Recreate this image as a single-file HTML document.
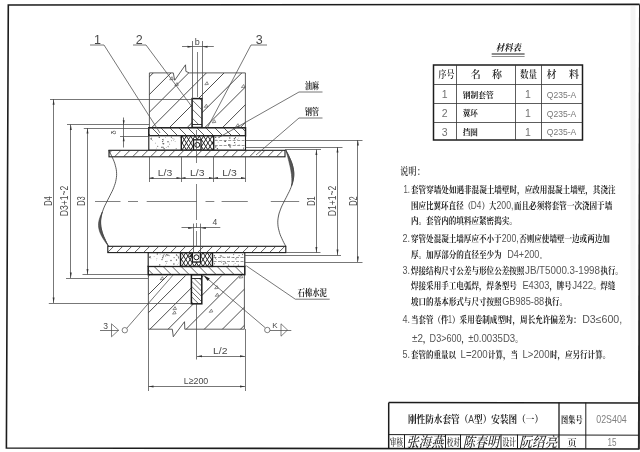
<!DOCTYPE html>
<html lang="zh"><head><meta charset="utf-8"><title>02S404</title>
<style>html,body{margin:0;padding:0;background:#fff;overflow:hidden}svg{display:block;will-change:transform;-webkit-font-smoothing:antialiased;filter:blur(0.4px)}</style>
</head><body>
<svg width="640" height="452" viewBox="0 0 640 452">
<defs>
<linearGradient id="band" x1="0" y1="0" x2="0" y2="1"><stop offset="0" stop-color="#f4f4f4"/><stop offset="0.6" stop-color="#f5f5f5"/><stop offset="1" stop-color="#ffffff"/></linearGradient>
</defs>
<rect x="0" y="0" width="640" height="452" fill="#ffffff"/>
<rect x="630.5" y="6" width="5" height="394" fill="url(#band)"/>
<polyline points="639.6,4.4 8.3,5 6.4,448 638.8,449" fill="none" stroke="#1c1c1c" stroke-width="1.6"/>
<line x1="640" y1="4.4" x2="638.9" y2="449.5" stroke="#2a2a2a" stroke-width="2"/>
<line x1="388.70" y1="402.60" x2="639.00" y2="403.00" stroke="#1c1c1c" stroke-width="1.5" />
<line x1="388.70" y1="402.60" x2="388.70" y2="448.60" stroke="#1c1c1c" stroke-width="1.5" />
<line x1="388.70" y1="434.60" x2="639.00" y2="435.20" stroke="#1c1c1c" stroke-width="1.0" />
<line x1="559.00" y1="402.60" x2="559.00" y2="448.60" stroke="#1c1c1c" stroke-width="1.3" />
<line x1="585.80" y1="402.60" x2="585.80" y2="448.60" stroke="#1c1c1c" stroke-width="1.0" />
<line x1="404.50" y1="434.60" x2="404.50" y2="448.60" stroke="#1c1c1c" stroke-width="1.0" />
<line x1="445.50" y1="434.60" x2="445.50" y2="448.60" stroke="#1c1c1c" stroke-width="1.0" />
<line x1="460.50" y1="434.60" x2="460.50" y2="448.60" stroke="#1c1c1c" stroke-width="1.0" />
<line x1="501.00" y1="434.60" x2="501.00" y2="448.60" stroke="#1c1c1c" stroke-width="1.0" />
<line x1="517.50" y1="434.60" x2="517.50" y2="448.60" stroke="#1c1c1c" stroke-width="1.0" />
<rect x="433.50" y="65.00" width="149.00" height="75.00" stroke="#1c1c1c" stroke-width="1.5" fill="none" />
<line x1="433.50" y1="84.50" x2="582.50" y2="84.50" stroke="#333" stroke-width="0.8" />
<line x1="433.50" y1="103.50" x2="582.50" y2="103.50" stroke="#333" stroke-width="0.8" />
<line x1="433.50" y1="122.50" x2="582.50" y2="122.50" stroke="#333" stroke-width="0.8" />
<line x1="456.50" y1="65.00" x2="456.50" y2="140.00" stroke="#333" stroke-width="0.8" />
<line x1="515.50" y1="65.00" x2="515.50" y2="140.00" stroke="#333" stroke-width="0.8" />
<line x1="541.50" y1="65.00" x2="541.50" y2="140.00" stroke="#333" stroke-width="0.8" />
<clipPath id="c1"><path d="M149.4 127.5V72.9H173.3L174.7 80.3L185.5 64.8L185.9 71.4L189.2 72.9H245.4V127.5Z"/></clipPath>
<g clip-path="url(#c1)" stroke="#3a3a3a" stroke-width="0.9" fill="none">
<path d="M81.00 127.50L144.50 64.00M98.70 127.50L162.20 64.00M116.40 127.50L179.90 64.00M134.10 127.50L197.60 64.00M151.80 127.50L215.30 64.00M169.50 127.50L233.00 64.00M187.20 127.50L250.70 64.00M204.90 127.50L268.40 64.00M222.60 127.50L286.10 64.00M240.30 127.50L303.80 64.00M258.00 127.50L321.50 64.00"/>
</g>
<path d="M149.4 127.5V72.9H173.3L174.7 80.3L185.5 64.8L185.9 71.4L189.2 72.9H245.4V127.5" stroke="#333" stroke-width="0.8" fill="none" />
<path d="M204.8 84.8L207.0 81.7L208.4 84.4Z" fill="none" stroke="#444" stroke-width="0.6"/>
<path d="M241.4 87.6L243.6 84.5L245.0 87.2Z" fill="none" stroke="#444" stroke-width="0.6"/>
<path d="M204.2 107.3L206.4 104.2L207.8 106.9Z" fill="none" stroke="#444" stroke-width="0.6"/>
<path d="M212.2 122.8L214.4 119.7L215.8 122.4Z" fill="none" stroke="#444" stroke-width="0.6"/>
<path d="M235.7 126.8L237.9 123.7L239.3 126.4Z" fill="none" stroke="#444" stroke-width="0.6"/>
<path d="M169.7 79.8L171.9 76.7L173.3 79.4Z" fill="none" stroke="#444" stroke-width="0.6"/>
<path d="M174.8 85.7L177.0 82.6L178.4 85.3Z" fill="none" stroke="#444" stroke-width="0.6"/>
<clipPath id="c2"><path d="M148.4 274.6V329.2H172.3L173.3 336.7L184.5 321.7L184.8 329.2H244.4V274.6Z"/></clipPath>
<g clip-path="url(#c2)" stroke="#3a3a3a" stroke-width="0.9" fill="none">
<path d="M69.80 337.00L131.30 275.50M87.90 337.00L149.40 275.50M106.00 337.00L167.50 275.50M124.10 337.00L185.60 275.50M142.20 337.00L203.70 275.50M160.30 337.00L221.80 275.50M178.40 337.00L239.90 275.50M196.50 337.00L258.00 275.50M214.60 337.00L276.10 275.50M232.70 337.00L294.20 275.50M250.80 337.00L312.30 275.50"/>
</g>
<path d="M148.4 274.6V329.2H172.3L173.3 336.7L184.5 321.7L184.8 329.2H244.4V274.6" stroke="#333" stroke-width="0.8" fill="none" />
<path d="M160.2 279.8L162.4 276.7L163.8 279.4Z" fill="none" stroke="#444" stroke-width="0.6"/>
<path d="M172.9 309.8L175.1 306.7L176.5 309.4Z" fill="none" stroke="#444" stroke-width="0.6"/>
<path d="M172.5 314.1L174.7 311.0L176.1 313.7Z" fill="none" stroke="#444" stroke-width="0.6"/>
<path d="M209.2 312.3L211.4 309.2L212.8 311.9Z" fill="none" stroke="#444" stroke-width="0.6"/>
<path d="M214.7 288.8L216.9 285.7L218.3 288.4Z" fill="none" stroke="#444" stroke-width="0.6"/>
<path d="M215.2 296.3L217.4 293.2L218.8 295.9Z" fill="none" stroke="#444" stroke-width="0.6"/>
<path d="M239.2 278.1L241.4 275.0L242.8 277.7Z" fill="none" stroke="#444" stroke-width="0.6"/>
<rect x="192.10" y="98.60" width="9.90" height="28.90" stroke="#1c1c1c" stroke-width="1.5" fill="#fff" />
<clipPath id="c3"><path d="M192.10 98.60H202.00V124.00H192.10Z"/></clipPath>
<g clip-path="url(#c3)" stroke="#333" stroke-width="0.7" fill="none">
<path d="M163.70 98.60L189.10 124.00M172.70 98.60L198.10 124.00M181.70 98.60L207.10 124.00M190.70 98.60L216.10 124.00M199.70 98.60L225.10 124.00M208.70 98.60L234.10 124.00"/>
</g>
<line x1="192.10" y1="124.50" x2="202.00" y2="124.50" stroke="#1c1c1c" stroke-width="0.9" />
<rect x="191.40" y="274.60" width="10.40" height="29.20" stroke="#1c1c1c" stroke-width="1.5" fill="#fff" />
<clipPath id="c4"><path d="M191.40 278.00H201.80V303.80H191.40Z"/></clipPath>
<g clip-path="url(#c4)" stroke="#333" stroke-width="0.7" fill="none">
<path d="M162.40 278.00L188.20 303.80M167.60 278.00L193.40 303.80M172.80 278.00L198.60 303.80M178.00 278.00L203.80 303.80M183.20 278.00L209.00 303.80M188.40 278.00L214.20 303.80M193.60 278.00L219.40 303.80M198.80 278.00L224.60 303.80M204.00 278.00L229.80 303.80"/>
</g>
<line x1="191.40" y1="278.50" x2="201.80" y2="278.50" stroke="#1c1c1c" stroke-width="0.9" />
<rect x="148.80" y="127.80" width="96.70" height="8.00" stroke="#1c1c1c" stroke-width="1.5" fill="#fff" />
<clipPath id="c5"><path d="M148.80 127.80H245.50V135.80H148.80Z"/></clipPath>
<g clip-path="url(#c5)" stroke="#333" stroke-width="0.8" fill="none">
<path d="M133.80 127.80L141.80 135.80M142.80 127.80L150.80 135.80M151.80 127.80L159.80 135.80M160.80 127.80L168.80 135.80M169.80 127.80L177.80 135.80M178.80 127.80L186.80 135.80M187.80 127.80L195.80 135.80M196.80 127.80L204.80 135.80M205.80 127.80L213.80 135.80M214.80 127.80L222.80 135.80M223.80 127.80L231.80 135.80M232.80 127.80L240.80 135.80M241.80 127.80L249.80 135.80M250.80 127.80L258.80 135.80"/>
</g>
<rect x="148.20" y="266.40" width="96.60" height="8.20" stroke="#1c1c1c" stroke-width="1.5" fill="#fff" />
<clipPath id="c6"><path d="M148.20 266.40H244.80V274.60H148.20Z"/></clipPath>
<g clip-path="url(#c6)" stroke="#333" stroke-width="0.8" fill="none">
<path d="M136.00 266.40L144.20 274.60M145.00 266.40L153.20 274.60M154.00 266.40L162.20 274.60M163.00 266.40L171.20 274.60M172.00 266.40L180.20 274.60M181.00 266.40L189.20 274.60M190.00 266.40L198.20 274.60M199.00 266.40L207.20 274.60M208.00 266.40L216.20 274.60M217.00 266.40L225.20 274.60M226.00 266.40L234.20 274.60M235.00 266.40L243.20 274.60M244.00 266.40L252.20 274.60M253.00 266.40L261.20 274.60"/>
</g>
<rect x="148.80" y="135.80" width="96.70" height="14.40" stroke="#1c1c1c" stroke-width="1.1" fill="#fff" />
<g fill="#555"><circle cx="163.6" cy="143.7" r="0.7"/><circle cx="163.6" cy="147.3" r="0.45"/><circle cx="155.4" cy="143.1" r="0.45"/><circle cx="152.7" cy="140.6" r="0.35"/><circle cx="166.2" cy="147.7" r="0.35"/><circle cx="168.0" cy="141.8" r="0.7"/><circle cx="169.7" cy="144.4" r="0.45"/><circle cx="168.8" cy="147.0" r="0.35"/><circle cx="151.6" cy="139.3" r="0.45"/><circle cx="168.1" cy="146.3" r="0.55"/><circle cx="163.2" cy="147.1" r="0.45"/><circle cx="169.3" cy="143.0" r="0.35"/><circle cx="163.7" cy="140.3" r="0.35"/><circle cx="171.4" cy="140.8" r="0.45"/><circle cx="165.4" cy="137.4" r="0.35"/><circle cx="162.0" cy="147.2" r="0.7"/><circle cx="151.8" cy="137.2" r="0.35"/><circle cx="156.3" cy="148.1" r="0.35"/><circle cx="164.1" cy="148.8" r="0.7"/><circle cx="162.6" cy="143.8" r="0.45"/><circle cx="173.5" cy="140.2" r="0.35"/><circle cx="159.3" cy="137.2" r="0.7"/><circle cx="172.9" cy="138.4" r="0.45"/><circle cx="171.4" cy="137.1" r="0.7"/><circle cx="174.1" cy="139.1" r="0.45"/><circle cx="163.4" cy="139.3" r="0.45"/><circle cx="162.6" cy="141.6" r="0.7"/><circle cx="162.6" cy="139.6" r="0.55"/><circle cx="176.2" cy="148.7" r="0.55"/><circle cx="180.2" cy="137.2" r="0.45"/><circle cx="161.8" cy="147.3" r="0.35"/><circle cx="151.1" cy="138.8" r="0.7"/><circle cx="157.7" cy="146.3" r="0.55"/><circle cx="175.1" cy="141.6" r="0.35"/></g>
<g fill="#555"><circle cx="228.8" cy="144.9" r="0.55"/><circle cx="218.9" cy="137.1" r="0.55"/><circle cx="229.1" cy="144.7" r="0.7"/><circle cx="235.3" cy="144.2" r="0.35"/><circle cx="234.4" cy="138.7" r="0.7"/><circle cx="225.7" cy="141.1" r="0.45"/><circle cx="216.5" cy="146.8" r="0.35"/><circle cx="230.0" cy="146.8" r="0.7"/><circle cx="238.5" cy="138.0" r="0.35"/><circle cx="239.1" cy="144.9" r="0.45"/><circle cx="217.4" cy="148.8" r="0.7"/><circle cx="218.1" cy="142.1" r="0.45"/><circle cx="230.8" cy="147.6" r="0.45"/><circle cx="243.8" cy="147.6" r="0.45"/><circle cx="229.8" cy="138.0" r="0.7"/><circle cx="234.6" cy="142.6" r="0.7"/><circle cx="230.8" cy="144.7" r="0.35"/><circle cx="243.5" cy="148.7" r="0.55"/><circle cx="225.3" cy="141.4" r="0.7"/><circle cx="234.8" cy="138.4" r="0.45"/><circle cx="224.7" cy="141.5" r="0.45"/><circle cx="215.5" cy="146.9" r="0.7"/><circle cx="215.7" cy="137.3" r="0.7"/><circle cx="216.0" cy="139.5" r="0.35"/><circle cx="237.1" cy="139.6" r="0.35"/><circle cx="235.4" cy="137.4" r="0.55"/></g>
<line x1="214.70" y1="140.50" x2="244.50" y2="140.50" stroke="#555" stroke-width="0.6" stroke-dasharray="3 1.5"/>
<line x1="214.70" y1="145.50" x2="244.50" y2="145.50" stroke="#555" stroke-width="0.6" stroke-dasharray="3 1.5"/>
<rect x="181.30" y="135.80" width="32.40" height="14.40" stroke="#1c1c1c" stroke-width="1.4" fill="#fff" />
<clipPath id="c7"><path d="M181.30 135.80H213.70V150.20H181.30Z"/></clipPath>
<g clip-path="url(#c7)" stroke="#222" stroke-width="0.95" fill="none">
<path d="M169.00 150.20L178.00 135.80M173.30 150.20L182.30 135.80M177.60 150.20L186.60 135.80M181.90 150.20L190.90 135.80M186.20 150.20L195.20 135.80M190.50 150.20L199.50 135.80M194.80 150.20L203.80 135.80M199.10 150.20L208.10 135.80M203.40 150.20L212.40 135.80M207.70 150.20L216.70 135.80M212.00 150.20L221.00 135.80M216.30 150.20L225.30 135.80"/>
</g>
<clipPath id="c8"><path d="M181.30 135.80H213.70V150.20H181.30Z"/></clipPath>
<g clip-path="url(#c8)" stroke="#222" stroke-width="0.95" fill="none">
<path d="M169.00 135.80L178.00 150.20M173.30 135.80L182.30 150.20M177.60 135.80L186.60 150.20M181.90 135.80L190.90 150.20M186.20 135.80L195.20 150.20M190.50 135.80L199.50 150.20M194.80 135.80L203.80 150.20M199.10 135.80L208.10 150.20M203.40 135.80L212.40 150.20M207.70 135.80L216.70 150.20M212.00 135.80L221.00 150.20M216.30 135.80L225.30 150.20"/>
</g>
<rect x="193.50" y="139.80" width="7.50" height="10.20" stroke="#1c1c1c" stroke-width="1.3" fill="#fff" />
<circle cx="197.25" cy="144.90" r="2.5" fill="#fff" stroke="#1c1c1c" stroke-width="1.0"/>
<rect x="148.20" y="252.60" width="96.60" height="13.80" stroke="#1c1c1c" stroke-width="1.1" fill="#fff" />
<g fill="#555"><circle cx="177.2" cy="264.6" r="0.35"/><circle cx="149.7" cy="257.3" r="0.7"/><circle cx="165.3" cy="255.3" r="0.45"/><circle cx="157.3" cy="254.0" r="0.7"/><circle cx="176.5" cy="255.0" r="0.7"/><circle cx="162.0" cy="259.6" r="0.7"/><circle cx="160.1" cy="254.5" r="0.35"/><circle cx="167.1" cy="261.3" r="0.45"/><circle cx="178.6" cy="257.9" r="0.55"/><circle cx="178.5" cy="257.0" r="0.55"/><circle cx="166.6" cy="263.1" r="0.45"/><circle cx="171.0" cy="260.5" r="0.7"/><circle cx="169.7" cy="255.7" r="0.45"/><circle cx="165.4" cy="261.5" r="0.45"/><circle cx="166.8" cy="254.7" r="0.7"/><circle cx="150.4" cy="256.9" r="0.55"/><circle cx="174.1" cy="257.6" r="0.55"/><circle cx="176.5" cy="260.0" r="0.7"/><circle cx="165.8" cy="256.7" r="0.35"/><circle cx="168.0" cy="255.2" r="0.7"/><circle cx="156.4" cy="260.0" r="0.35"/><circle cx="177.8" cy="255.7" r="0.35"/><circle cx="150.9" cy="258.5" r="0.35"/><circle cx="154.1" cy="256.4" r="0.35"/><circle cx="178.7" cy="263.0" r="0.35"/><circle cx="165.5" cy="265.1" r="0.35"/><circle cx="159.7" cy="264.9" r="0.7"/><circle cx="164.1" cy="254.2" r="0.55"/><circle cx="163.3" cy="256.0" r="0.7"/><circle cx="178.0" cy="256.3" r="0.35"/><circle cx="166.1" cy="261.2" r="0.45"/><circle cx="156.9" cy="258.6" r="0.35"/><circle cx="162.7" cy="257.7" r="0.7"/><circle cx="173.9" cy="264.0" r="0.7"/></g>
<g fill="#555"><circle cx="235.1" cy="263.4" r="0.45"/><circle cx="220.1" cy="255.7" r="0.45"/><circle cx="233.8" cy="254.8" r="0.45"/><circle cx="237.9" cy="257.0" r="0.35"/><circle cx="226.9" cy="263.7" r="0.35"/><circle cx="214.4" cy="255.7" r="0.7"/><circle cx="235.9" cy="258.9" r="0.55"/><circle cx="228.6" cy="265.1" r="0.55"/><circle cx="239.1" cy="255.6" r="0.55"/><circle cx="242.6" cy="254.6" r="0.55"/><circle cx="233.5" cy="254.2" r="0.45"/><circle cx="223.1" cy="264.0" r="0.35"/><circle cx="222.9" cy="256.6" r="0.45"/><circle cx="238.3" cy="265.1" r="0.55"/><circle cx="221.6" cy="262.3" r="0.45"/><circle cx="216.3" cy="259.4" r="0.45"/><circle cx="233.3" cy="257.5" r="0.45"/><circle cx="233.8" cy="264.9" r="0.45"/><circle cx="227.9" cy="256.8" r="0.45"/><circle cx="229.6" cy="256.6" r="0.45"/><circle cx="221.4" cy="261.1" r="0.45"/><circle cx="225.4" cy="262.9" r="0.7"/><circle cx="215.5" cy="257.9" r="0.55"/><circle cx="221.1" cy="255.9" r="0.7"/><circle cx="223.8" cy="263.9" r="0.55"/><circle cx="214.5" cy="263.7" r="0.55"/></g>
<line x1="213.50" y1="257.50" x2="243.80" y2="257.50" stroke="#555" stroke-width="0.6" stroke-dasharray="3 1.5"/>
<line x1="213.50" y1="261.50" x2="243.80" y2="261.50" stroke="#555" stroke-width="0.6" stroke-dasharray="3 1.5"/>
<rect x="180.50" y="252.60" width="32.00" height="13.80" stroke="#1c1c1c" stroke-width="1.4" fill="#fff" />
<clipPath id="c9"><path d="M180.50 252.60H212.50V266.40H180.50Z"/></clipPath>
<g clip-path="url(#c9)" stroke="#222" stroke-width="0.95" fill="none">
<path d="M168.57 266.40L177.20 252.60M172.88 266.40L181.50 252.60M177.18 266.40L185.80 252.60M181.48 266.40L190.10 252.60M185.78 266.40L194.40 252.60M190.08 266.40L198.70 252.60M194.38 266.40L203.00 252.60M198.68 266.40L207.30 252.60M202.98 266.40L211.60 252.60M207.28 266.40L215.90 252.60M211.58 266.40L220.20 252.60M215.88 266.40L224.50 252.60"/>
</g>
<clipPath id="c10"><path d="M180.50 252.60H212.50V266.40H180.50Z"/></clipPath>
<g clip-path="url(#c10)" stroke="#222" stroke-width="0.95" fill="none">
<path d="M168.57 252.60L177.20 266.40M172.88 252.60L181.50 266.40M177.18 252.60L185.80 266.40M181.48 252.60L190.10 266.40M185.78 252.60L194.40 266.40M190.08 252.60L198.70 266.40M194.38 252.60L203.00 266.40M198.68 252.60L207.30 266.40M202.98 252.60L211.60 266.40M207.28 252.60L215.90 266.40M211.58 252.60L220.20 266.40M215.88 252.60L224.50 266.40"/>
</g>
<rect x="192.40" y="252.60" width="8.00" height="9.40" stroke="#1c1c1c" stroke-width="1.3" fill="#fff" />
<circle cx="196.40" cy="257.30" r="2.5" fill="#fff" stroke="#1c1c1c" stroke-width="1.0"/>
<path d="M188.3 257.6L192 253L192.4 256.6Z" fill="#222"/>
<rect x="109.00" y="150.30" width="176.00" height="6.50" stroke="#1c1c1c" stroke-width="1.1" fill="#fff" />
<clipPath id="c11"><path d="M109.00 150.30H285.00V156.80H109.00Z"/></clipPath>
<g clip-path="url(#c11)" stroke="#333" stroke-width="0.8" fill="none">
<path d="M96.50 156.80L103.00 150.30M105.50 156.80L112.00 150.30M114.50 156.80L121.00 150.30M123.50 156.80L130.00 150.30M132.50 156.80L139.00 150.30M141.50 156.80L148.00 150.30M150.50 156.80L157.00 150.30M159.50 156.80L166.00 150.30M168.50 156.80L175.00 150.30M177.50 156.80L184.00 150.30M186.50 156.80L193.00 150.30M195.50 156.80L202.00 150.30M204.50 156.80L211.00 150.30M213.50 156.80L220.00 150.30M222.50 156.80L229.00 150.30M231.50 156.80L238.00 150.30M240.50 156.80L247.00 150.30M249.50 156.80L256.00 150.30M258.50 156.80L265.00 150.30M267.50 156.80L274.00 150.30M276.50 156.80L283.00 150.30M285.50 156.80L292.00 150.30"/>
</g>
<rect x="107.80" y="246.30" width="178.00" height="6.30" stroke="#1c1c1c" stroke-width="1.1" fill="#fff" />
<clipPath id="c12"><path d="M107.80 246.30H285.80V252.60H107.80Z"/></clipPath>
<g clip-path="url(#c12)" stroke="#333" stroke-width="0.8" fill="none">
<path d="M98.50 252.60L104.80 246.30M107.50 252.60L113.80 246.30M116.50 252.60L122.80 246.30M125.50 252.60L131.80 246.30M134.50 252.60L140.80 246.30M143.50 252.60L149.80 246.30M152.50 252.60L158.80 246.30M161.50 252.60L167.80 246.30M170.50 252.60L176.80 246.30M179.50 252.60L185.80 246.30M188.50 252.60L194.80 246.30M197.50 252.60L203.80 246.30M206.50 252.60L212.80 246.30M215.50 252.60L221.80 246.30M224.50 252.60L230.80 246.30M233.50 252.60L239.80 246.30M242.50 252.60L248.80 246.30M251.50 252.60L257.80 246.30M260.50 252.60L266.80 246.30M269.50 252.60L275.80 246.30M278.50 252.60L284.80 246.30M287.50 252.60L293.80 246.30"/>
</g>
<path d="M108.6 150.0L109.6 152.0L110.6 153.9L111.6 155.9L112.5 157.9L113.4 159.8L114.2 161.8L114.9 163.8L115.4 165.8L115.9 167.7L116.3 169.7L116.5 171.7L116.6 173.6L116.6 175.6L116.4 177.6L116.1 179.5L115.7 181.5L115.2 183.5L114.5 185.4L113.8 187.4L113.0 189.4L112.1 191.4L111.1 193.3L110.1 195.3L109.1 197.3L108.1 199.2L107.1 201.2L106.1 203.2L105.1 205.1L104.2 207.1L103.4 209.1L102.7 211.1L102.0 213.0L101.5 215.0L101.1 217.0L100.8 218.9L100.6 220.9L100.6 222.9L100.7 224.8L100.9 226.8L101.3 228.8L101.8 230.7L102.3 232.7L103.0 234.7L103.8 236.7L104.7 238.6L105.6 240.6L106.6 242.6L107.6 244.5L108.6 246.5" stroke="#333" stroke-width="0.8" fill="none" />
<path d="M285.8 150.0L286.8 152.0L287.8 153.9L288.8 155.9L289.7 157.9L290.6 159.8L291.4 161.8L292.1 163.8L292.6 165.8L293.1 167.7L293.5 169.7L293.7 171.7L293.8 173.6L293.8 175.6L293.6 177.6L293.3 179.5L292.9 181.5L292.4 183.5L291.7 185.4L291.0 187.4L290.2 189.4L289.3 191.4L288.3 193.3L287.3 195.3L286.3 197.3L285.3 199.2L284.3 201.2L283.3 203.2L282.3 205.1L281.4 207.1L280.6 209.1L279.9 211.1L279.2 213.0L278.7 215.0L278.3 217.0L278.0 218.9L277.8 220.9L277.8 222.9L277.9 224.8L278.1 226.8L278.5 228.8L279.0 230.7L279.5 232.7L280.2 234.7L281.0 236.7L281.9 238.6L282.8 240.6L283.8 242.6L284.8 244.5L285.8 246.5" stroke="#333" stroke-width="0.8" fill="none" />
<path d="M285.8 150.0L286.8 151.9L287.8 153.8L288.7 155.7L289.6 157.6L290.4 159.5L291.2 161.4L291.9 163.3L292.5 165.2L293.0 167.1L293.3 168.9L293.6 170.8L293.8 172.7L293.8 174.6L293.7 176.5L293.5 178.4L293.2 180.3L292.7 182.2L292.2 184.1L291.5 186.0L291.5 186.0L291.7 184.1L291.8 182.2L291.8 180.3L291.8 178.4L291.6 176.5L291.5 174.6L291.2 172.7L290.9 170.8L290.6 168.9L290.2 167.1L289.8 165.2L289.3 163.3L288.9 161.4L288.4 159.5L287.9 157.6L287.4 155.7L286.8 153.8L286.3 151.9L285.8 150.0" stroke="#333" stroke-width="0.5" fill="#555" />
<path d="M102.4 212.0L101.8 213.9L101.3 215.8L101.0 217.8L100.7 219.7L100.6 221.6L100.6 223.5L100.8 225.4L101.0 227.3L101.4 229.2L101.9 231.2L102.5 233.1L103.2 235.0L103.9 236.9L104.8 238.8L105.7 240.8L106.6 242.7L107.6 244.6L108.6 246.5L108.6 246.5L107.2 244.6L105.8 242.7L104.5 240.8L103.2 238.8L102.1 236.9L101.1 235.0L100.2 233.1L99.5 231.2L99.0 229.2L98.6 227.3L98.5 225.4L98.5 223.5L98.8 221.6L99.2 219.7L99.8 217.8L100.5 215.8L101.4 213.9L102.4 212.0" stroke="#333" stroke-width="0.5" fill="#555" />
<line x1="95.00" y1="201.50" x2="120.50" y2="201.50" stroke="#4a4a4a" stroke-width="0.7" />
<line x1="128.00" y1="201.50" x2="138.00" y2="201.50" stroke="#4a4a4a" stroke-width="0.7" />
<line x1="146.70" y1="201.50" x2="196.60" y2="201.50" stroke="#4a4a4a" stroke-width="0.7" />
<line x1="205.50" y1="201.50" x2="214.30" y2="201.50" stroke="#4a4a4a" stroke-width="0.7" />
<line x1="221.60" y1="201.50" x2="247.80" y2="201.50" stroke="#4a4a4a" stroke-width="0.7" />
<line x1="270.80" y1="201.50" x2="299.20" y2="201.50" stroke="#4a4a4a" stroke-width="0.7" />
<line x1="197.50" y1="52.00" x2="197.50" y2="97.00" stroke="#4a4a4a" stroke-width="0.7" />
<line x1="196.50" y1="130.00" x2="196.50" y2="163.00" stroke="#4a4a4a" stroke-width="0.7" />
<line x1="196.50" y1="184.00" x2="196.50" y2="247.00" stroke="#4a4a4a" stroke-width="0.7" stroke-dasharray="36 3 5 3"/>
<line x1="196.50" y1="304.00" x2="196.50" y2="359.50" stroke="#4a4a4a" stroke-width="0.75" />
<line x1="50.00" y1="99.50" x2="192.00" y2="99.50" stroke="#4a4a4a" stroke-width="0.75" />
<line x1="48.80" y1="303.50" x2="191.00" y2="303.50" stroke="#4a4a4a" stroke-width="0.75" />
<line x1="53.50" y1="99.20" x2="53.50" y2="303.00" stroke="#4a4a4a" stroke-width="0.75" />
<polygon points="53.60,99.20 54.55,104.80 52.65,104.80" fill="#333"/>
<polygon points="53.60,303.00 52.65,297.40 54.55,297.40" fill="#333"/>
<text x="51.50" y="201.00" font-size="10.5" font-family='"Liberation Sans", sans-serif' fill="#4a4a4a" text-anchor="middle" textLength="9.50" lengthAdjust="spacingAndGlyphs" transform="rotate(-90 51.50 201.00)" >D4</text>
<line x1="67.00" y1="124.50" x2="149.00" y2="124.50" stroke="#4a4a4a" stroke-width="0.75" />
<line x1="66.00" y1="278.50" x2="148.00" y2="278.50" stroke="#4a4a4a" stroke-width="0.75" />
<line x1="70.50" y1="124.50" x2="70.50" y2="278.00" stroke="#4a4a4a" stroke-width="0.75" />
<polygon points="70.80,124.50 71.75,130.10 69.85,130.10" fill="#333"/>
<polygon points="70.80,278.00 69.85,272.40 71.75,272.40" fill="#333"/>
<text x="68.00" y="201.00" font-size="10.5" font-family='"Liberation Sans", sans-serif' fill="#4a4a4a" text-anchor="middle" textLength="30.50" lengthAdjust="spacingAndGlyphs" transform="rotate(-90 68.00 201.00)" >D3+1~2</text>
<line x1="83.80" y1="128.50" x2="149.00" y2="128.50" stroke="#4a4a4a" stroke-width="0.75" />
<line x1="82.50" y1="274.50" x2="148.00" y2="274.50" stroke="#4a4a4a" stroke-width="0.75" />
<line x1="87.50" y1="128.00" x2="87.50" y2="274.50" stroke="#4a4a4a" stroke-width="0.75" />
<polygon points="87.50,128.00 88.45,133.60 86.55,133.60" fill="#333"/>
<polygon points="87.50,274.50 86.55,268.90 88.45,268.90" fill="#333"/>
<text x="85.00" y="201.00" font-size="10.5" font-family='"Liberation Sans", sans-serif' fill="#4a4a4a" text-anchor="middle" textLength="9.50" lengthAdjust="spacingAndGlyphs" transform="rotate(-90 85.00 201.00)" >D3</text>
<line x1="285.00" y1="149.50" x2="321.00" y2="149.50" stroke="#4a4a4a" stroke-width="0.75" />
<line x1="286.00" y1="252.50" x2="320.50" y2="252.50" stroke="#4a4a4a" stroke-width="0.75" />
<line x1="316.50" y1="149.50" x2="316.50" y2="252.70" stroke="#4a4a4a" stroke-width="0.75" />
<polygon points="316.40,149.50 317.35,155.10 315.45,155.10" fill="#333"/>
<polygon points="316.40,252.70 315.45,247.10 317.35,247.10" fill="#333"/>
<text x="315.00" y="201.00" font-size="10.5" font-family='"Liberation Sans", sans-serif' fill="#4a4a4a" text-anchor="middle" textLength="9.50" lengthAdjust="spacingAndGlyphs" transform="rotate(-90 315.00 201.00)" >D1</text>
<line x1="245.50" y1="147.50" x2="342.50" y2="147.50" stroke="#4a4a4a" stroke-width="0.75" />
<line x1="245.00" y1="255.50" x2="341.00" y2="255.50" stroke="#4a4a4a" stroke-width="0.75" />
<line x1="337.50" y1="147.00" x2="337.50" y2="255.20" stroke="#4a4a4a" stroke-width="0.75" />
<polygon points="337.50,147.00 338.45,152.60 336.55,152.60" fill="#333"/>
<polygon points="337.50,255.20 336.55,249.60 338.45,249.60" fill="#333"/>
<text x="336.00" y="201.00" font-size="10.5" font-family='"Liberation Sans", sans-serif' fill="#4a4a4a" text-anchor="middle" textLength="30.50" lengthAdjust="spacingAndGlyphs" transform="rotate(-90 336.00 201.00)" >D1+1~2</text>
<line x1="245.50" y1="140.50" x2="362.50" y2="140.50" stroke="#4a4a4a" stroke-width="0.75" />
<line x1="245.00" y1="262.50" x2="362.50" y2="262.50" stroke="#4a4a4a" stroke-width="0.75" />
<line x1="357.50" y1="140.00" x2="357.50" y2="262.00" stroke="#4a4a4a" stroke-width="0.75" />
<polygon points="357.90,140.00 358.85,145.60 356.95,145.60" fill="#333"/>
<polygon points="357.90,262.00 356.95,256.40 358.85,256.40" fill="#333"/>
<text x="356.80" y="201.00" font-size="10.5" font-family='"Liberation Sans", sans-serif' fill="#4a4a4a" text-anchor="middle" textLength="9.50" lengthAdjust="spacingAndGlyphs" transform="rotate(-90 356.80 201.00)" >D2</text>
<line x1="123.50" y1="117.50" x2="123.50" y2="147.50" stroke="#4a4a4a" stroke-width="0.75" />
<polygon points="123.70,125.30 122.75,120.30 124.65,120.30" fill="#333"/>
<polygon points="123.70,136.30 124.65,141.30 122.75,141.30" fill="#333"/>
<line x1="120.00" y1="136.50" x2="149.00" y2="136.50" stroke="#4a4a4a" stroke-width="0.75" />
<text x="116.20" y="132.30" font-size="7.5" font-family='"Liberation Sans", sans-serif' fill="#4a4a4a" text-anchor="middle" transform="rotate(-90 116.20 132.30)" >δ</text>
<line x1="182.00" y1="46.50" x2="213.80" y2="46.50" stroke="#4a4a4a" stroke-width="0.75" />
<line x1="192.50" y1="41.00" x2="192.50" y2="98.80" stroke="#4a4a4a" stroke-width="0.75" />
<line x1="202.50" y1="41.00" x2="202.50" y2="98.80" stroke="#4a4a4a" stroke-width="0.75" />
<polygon points="192.50,46.80 187.50,47.75 187.50,45.85" fill="#333"/>
<polygon points="202.50,46.80 207.50,45.85 207.50,47.75" fill="#333"/>
<text x="197.30" y="44.50" font-size="9" font-family='"Liberation Sans", sans-serif' fill="#4a4a4a" text-anchor="middle" >b</text>
<line x1="181.50" y1="227.50" x2="220.30" y2="227.50" stroke="#4a4a4a" stroke-width="0.75" />
<line x1="193.50" y1="223.60" x2="193.50" y2="252.60" stroke="#4a4a4a" stroke-width="0.75" />
<line x1="200.50" y1="223.60" x2="200.50" y2="252.60" stroke="#4a4a4a" stroke-width="0.75" />
<polygon points="193.20,228.00 188.20,228.95 188.20,227.05" fill="#333"/>
<polygon points="200.80,228.00 205.80,227.05 205.80,228.95" fill="#333"/>
<text x="214.80" y="225.20" font-size="8.5" font-family='"Liberation Sans", sans-serif' fill="#4a4a4a" text-anchor="middle" >4</text>
<line x1="149.50" y1="157.00" x2="149.50" y2="182.00" stroke="#4a4a4a" stroke-width="0.75" />
<line x1="181.50" y1="157.00" x2="181.50" y2="182.00" stroke="#4a4a4a" stroke-width="0.75" />
<line x1="213.50" y1="157.00" x2="213.50" y2="182.00" stroke="#4a4a4a" stroke-width="0.75" />
<line x1="245.50" y1="157.00" x2="245.50" y2="182.00" stroke="#4a4a4a" stroke-width="0.75" />
<line x1="149.00" y1="178.50" x2="245.50" y2="178.50" stroke="#4a4a4a" stroke-width="0.75" />
<polygon points="149.00,178.00 153.50,177.05 153.50,178.95" fill="#333"/>
<polygon points="181.00,178.00 176.50,178.95 176.50,177.05" fill="#333"/>
<text x="165.00" y="176.00" font-size="9.7" font-family='"Liberation Sans", sans-serif' fill="#4a4a4a" text-anchor="middle" textLength="14.50" lengthAdjust="spacingAndGlyphs" >L/3</text>
<polygon points="181.00,178.00 185.50,177.05 185.50,178.95" fill="#333"/>
<polygon points="213.50,178.00 209.00,178.95 209.00,177.05" fill="#333"/>
<text x="197.25" y="176.00" font-size="9.7" font-family='"Liberation Sans", sans-serif' fill="#4a4a4a" text-anchor="middle" textLength="14.50" lengthAdjust="spacingAndGlyphs" >L/3</text>
<polygon points="213.50,178.00 218.00,177.05 218.00,178.95" fill="#333"/>
<polygon points="245.50,178.00 241.00,178.95 241.00,177.05" fill="#333"/>
<text x="229.50" y="176.00" font-size="9.7" font-family='"Liberation Sans", sans-serif' fill="#4a4a4a" text-anchor="middle" textLength="14.50" lengthAdjust="spacingAndGlyphs" >L/3</text>
<line x1="148.50" y1="329.00" x2="148.50" y2="391.00" stroke="#4a4a4a" stroke-width="0.75" />
<line x1="245.50" y1="329.00" x2="245.50" y2="391.00" stroke="#4a4a4a" stroke-width="0.75" />
<line x1="197.00" y1="356.50" x2="245.00" y2="356.50" stroke="#4a4a4a" stroke-width="0.75" />
<polygon points="197.00,356.30 202.00,355.35 202.00,357.25" fill="#333"/>
<polygon points="245.00,356.30 240.00,357.25 240.00,355.35" fill="#333"/>
<text x="220.20" y="354.10" font-size="9.7" font-family='"Liberation Sans", sans-serif' fill="#4a4a4a" text-anchor="middle" textLength="14.50" lengthAdjust="spacingAndGlyphs" >L/2</text>
<line x1="148.50" y1="386.50" x2="245.00" y2="386.50" stroke="#4a4a4a" stroke-width="0.75" />
<polygon points="148.50,386.50 153.50,385.55 153.50,387.45" fill="#333"/>
<polygon points="245.00,386.50 240.00,387.45 240.00,385.55" fill="#333"/>
<text x="196.00" y="384.20" font-size="9.7" font-family='"Liberation Sans", sans-serif' fill="#4a4a4a" text-anchor="middle" textLength="24.50" lengthAdjust="spacingAndGlyphs" >L≥200</text>
<text x="97.50" y="43.60" font-size="12.5" font-family='"Liberation Sans", sans-serif' fill="#4a4a4a" text-anchor="middle" >1</text>
<path d="M90 45H104L160 133" stroke="#4a4a4a" stroke-width="0.75" fill="none" />
<text x="139.30" y="43.60" font-size="12.5" font-family='"Liberation Sans", sans-serif' fill="#4a4a4a" text-anchor="middle" >2</text>
<path d="M133 45H146L192.5 107.5" stroke="#4a4a4a" stroke-width="0.75" fill="none" />
<text x="259.30" y="43.60" font-size="12.5" font-family='"Liberation Sans", sans-serif' fill="#4a4a4a" text-anchor="middle" >3</text>
<path d="M267 45H251L207.5 127.5" stroke="#4a4a4a" stroke-width="0.75" fill="none" />
<text x="312.00" y="89.30" font-size="8.8" font-family='"Liberation Serif", "Noto Serif CJK SC", serif' fill="#1c1c1c" text-anchor="middle" font-weight="700" textLength="14.00" lengthAdjust="spacingAndGlyphs" >油麻</text>
<path d="M322.5 92H299L218.8 137.5" stroke="#4a4a4a" stroke-width="0.75" fill="none" />
<text x="312.00" y="115.30" font-size="8.8" font-family='"Liberation Serif", "Noto Serif CJK SC", serif' fill="#1c1c1c" text-anchor="middle" font-weight="700" textLength="14.00" lengthAdjust="spacingAndGlyphs" >钢管</text>
<path d="M322.5 118H299L256 155" stroke="#4a4a4a" stroke-width="0.75" fill="none" />
<text x="312.20" y="296.30" font-size="9" font-family='"Liberation Serif", "Noto Serif CJK SC", serif' fill="#1c1c1c" text-anchor="middle" font-weight="700" textLength="29.60" lengthAdjust="spacingAndGlyphs" >石棉水泥</text>
<path d="M329.7 299.2H295.3L246.3 265.8" stroke="#4a4a4a" stroke-width="0.75" fill="none" />
<text x="105.60" y="328.60" font-size="8.5" font-family='"Liberation Sans", sans-serif' fill="#4a4a4a" text-anchor="middle" >3</text>
<line x1="100.00" y1="330.50" x2="118.70" y2="330.50" stroke="#4a4a4a" stroke-width="0.75" />
<path d="M111.5 323.8L118.6 330.2L111.5 336.8Z" stroke="#4a4a4a" stroke-width="0.7" fill="none" />
<circle cx="124.8" cy="330.2" r="2.7" fill="none" stroke="#4a4a4a" stroke-width="0.7"/>
<line x1="126.80" y1="328.20" x2="173.20" y2="274.90" stroke="#4a4a4a" stroke-width="0.75" />
<circle cx="267.3" cy="330" r="2.7" fill="none" stroke="#4a4a4a" stroke-width="0.7"/>
<text x="274.80" y="327.80" font-size="8" font-family='"Liberation Sans", sans-serif' fill="#4a4a4a" text-anchor="middle" >K</text>
<path d="M281 323.8L287.5 330L281 336.2Z" stroke="#4a4a4a" stroke-width="0.7" fill="none" />
<line x1="270.00" y1="330.50" x2="291.30" y2="330.50" stroke="#4a4a4a" stroke-width="0.75" />
<line x1="265.20" y1="327.70" x2="205.00" y2="276.60" stroke="#4a4a4a" stroke-width="0.75" />
<polygon points="203.40,275.30 209.83,278.50 207.80,280.98" fill="#222"/>
<text x="508.30" y="50.50" font-size="9.5" font-family='"Liberation Serif", "Noto Serif CJK SC", serif' fill="#1c1c1c" text-anchor="middle" font-weight="700" textLength="25.00" lengthAdjust="spacingAndGlyphs" font-style="italic">材料表</text>
<line x1="491.70" y1="54.00" x2="524.60" y2="54.00" stroke="#1c1c1c" stroke-width="1.0" />
<line x1="491.70" y1="56.50" x2="524.60" y2="56.50" stroke="#444" stroke-width="0.6" />
<text x="446.50" y="78.20" font-size="10" font-family='"Liberation Serif", "Noto Serif CJK SC", serif' fill="#222" text-anchor="middle" font-weight="600" textLength="16.00" lengthAdjust="spacingAndGlyphs" >序号</text>
<text x="475.70" y="78.20" font-size="10" font-family='"Liberation Serif", "Noto Serif CJK SC", serif' fill="#222" text-anchor="middle" font-weight="600" >名</text>
<text x="497.00" y="78.20" font-size="10" font-family='"Liberation Serif", "Noto Serif CJK SC", serif' fill="#222" text-anchor="middle" font-weight="600" >称</text>
<text x="528.60" y="78.20" font-size="10" font-family='"Liberation Serif", "Noto Serif CJK SC", serif' fill="#222" text-anchor="middle" font-weight="600" textLength="17.00" lengthAdjust="spacingAndGlyphs" >数量</text>
<text x="551.60" y="78.20" font-size="10" font-family='"Liberation Serif", "Noto Serif CJK SC", serif' fill="#222" text-anchor="middle" font-weight="600" >材</text>
<text x="574.00" y="78.20" font-size="10" font-family='"Liberation Serif", "Noto Serif CJK SC", serif' fill="#222" text-anchor="middle" font-weight="600" >料</text>
<text x="444.70" y="98.40" font-size="10.5" font-family='"Liberation Sans", sans-serif' fill="#707070" text-anchor="middle" >1</text>
<text x="462.70" y="97.50" font-size="8" font-family='"Liberation Serif", "Noto Serif CJK SC", serif' fill="#1c1c1c" text-anchor="start" font-weight="700" textLength="31.00" lengthAdjust="spacingAndGlyphs" >钢制套管</text>
<text x="528.00" y="98.40" font-size="10.5" font-family='"Liberation Sans", sans-serif' fill="#707070" text-anchor="middle" >1</text>
<text x="561.50" y="98.20" font-size="9.6" font-family='"Liberation Sans", sans-serif' fill="#787878" text-anchor="middle" textLength="29.50" lengthAdjust="spacingAndGlyphs" >Q235-A</text>
<text x="444.70" y="116.80" font-size="10.5" font-family='"Liberation Sans", sans-serif' fill="#707070" text-anchor="middle" >2</text>
<text x="462.70" y="115.90" font-size="8" font-family='"Liberation Serif", "Noto Serif CJK SC", serif' fill="#1c1c1c" text-anchor="start" font-weight="700" textLength="15.00" lengthAdjust="spacingAndGlyphs" >翼环</text>
<text x="528.00" y="116.80" font-size="10.5" font-family='"Liberation Sans", sans-serif' fill="#707070" text-anchor="middle" >1</text>
<text x="561.50" y="116.60" font-size="9.6" font-family='"Liberation Sans", sans-serif' fill="#787878" text-anchor="middle" textLength="29.50" lengthAdjust="spacingAndGlyphs" >Q235-A</text>
<text x="444.70" y="135.60" font-size="10.5" font-family='"Liberation Sans", sans-serif' fill="#707070" text-anchor="middle" >3</text>
<text x="462.70" y="134.70" font-size="8" font-family='"Liberation Serif", "Noto Serif CJK SC", serif' fill="#1c1c1c" text-anchor="start" font-weight="700" textLength="15.00" lengthAdjust="spacingAndGlyphs" >挡圈</text>
<text x="528.00" y="135.60" font-size="10.5" font-family='"Liberation Sans", sans-serif' fill="#707070" text-anchor="middle" >1</text>
<text x="561.50" y="135.40" font-size="9.6" font-family='"Liberation Sans", sans-serif' fill="#787878" text-anchor="middle" textLength="29.50" lengthAdjust="spacingAndGlyphs" >Q235-A</text>
<text x="400.00" y="174.50" font-size="10.5" font-family='"Liberation Serif", "Noto Serif CJK SC", serif' fill="#333" text-anchor="start" font-weight="600" textLength="25.00" lengthAdjust="spacingAndGlyphs" >说明：</text>
<text x="403.50" y="193.40" font-size="10.3" font-family='"Liberation Sans", sans-serif' fill="#555" text-anchor="start" textLength="6.50" lengthAdjust="spacingAndGlyphs" >1.</text>
<text x="411.00" y="193.10" font-size="9.2" font-family='"Liberation Serif", "Noto Serif CJK SC", serif' fill="#1c1c1c" text-anchor="start" font-weight="700" textLength="204.60" lengthAdjust="spacingAndGlyphs" >套管穿墙处如遇非混凝土墙壁时，应改用混凝土墙壁，其浇注</text>
<text x="411.00" y="208.60" font-size="9.2" font-family='"Liberation Serif", "Noto Serif CJK SC", serif' fill="#1c1c1c" text-anchor="start" font-weight="700" textLength="60.20" lengthAdjust="spacingAndGlyphs" >围应比翼环直径（</text>
<text x="470.80" y="208.90" font-size="10.3" font-family='"Liberation Sans", sans-serif' fill="#555" text-anchor="start" textLength="10.50" lengthAdjust="spacingAndGlyphs" >D4</text>
<text x="481.80" y="208.60" font-size="9.2" font-family='"Liberation Serif", "Noto Serif CJK SC", serif' fill="#1c1c1c" text-anchor="start" font-weight="700" textLength="14.60" lengthAdjust="spacingAndGlyphs" >）大</text>
<text x="496.50" y="208.90" font-size="10.3" font-family='"Liberation Sans", sans-serif' fill="#555" text-anchor="start" textLength="17.00" lengthAdjust="spacingAndGlyphs" >200,</text>
<text x="514.00" y="208.60" font-size="9.2" font-family='"Liberation Serif", "Noto Serif CJK SC", serif' fill="#1c1c1c" text-anchor="start" font-weight="700" textLength="98.20" lengthAdjust="spacingAndGlyphs" >而且必须将套管一次浇固于墙</text>
<text x="411.00" y="224.10" font-size="9.2" font-family='"Liberation Serif", "Noto Serif CJK SC", serif' fill="#1c1c1c" text-anchor="start" font-weight="700" textLength="105.80" lengthAdjust="spacingAndGlyphs" >内。套管内的填料应紧密捣实。</text>
<text x="402.50" y="242.40" font-size="10.3" font-family='"Liberation Sans", sans-serif' fill="#555" text-anchor="start" textLength="7.50" lengthAdjust="spacingAndGlyphs" >2.</text>
<text x="411.00" y="242.10" font-size="9.2" font-family='"Liberation Serif", "Noto Serif CJK SC", serif' fill="#1c1c1c" text-anchor="start" font-weight="700" textLength="90.60" lengthAdjust="spacingAndGlyphs" >穿管处混凝土墙厚应不小于</text>
<text x="501.70" y="242.40" font-size="10.3" font-family='"Liberation Sans", sans-serif' fill="#555" text-anchor="start" textLength="17.00" lengthAdjust="spacingAndGlyphs" >200,</text>
<text x="519.20" y="242.10" font-size="9.2" font-family='"Liberation Serif", "Noto Serif CJK SC", serif' fill="#1c1c1c" text-anchor="start" font-weight="700" textLength="90.60" lengthAdjust="spacingAndGlyphs" >否则应使墙壁一边或两边加</text>
<text x="411.00" y="257.60" font-size="9.2" font-family='"Liberation Serif", "Noto Serif CJK SC", serif' fill="#1c1c1c" text-anchor="start" font-weight="700" textLength="90.60" lengthAdjust="spacingAndGlyphs" >厚。加厚部分的直径至少为</text>
<text x="507.20" y="257.90" font-size="10.3" font-family='"Liberation Sans", sans-serif' fill="#555" text-anchor="start" textLength="41.00" lengthAdjust="spacingAndGlyphs" >D4+200。</text>
<text x="402.50" y="273.90" font-size="10.3" font-family='"Liberation Sans", sans-serif' fill="#555" text-anchor="start" textLength="7.50" lengthAdjust="spacingAndGlyphs" >3.</text>
<text x="411.00" y="273.60" font-size="9.2" font-family='"Liberation Serif", "Noto Serif CJK SC", serif' fill="#1c1c1c" text-anchor="start" font-weight="700" textLength="113.40" lengthAdjust="spacingAndGlyphs" >焊接结构尺寸公差与形位公差按照</text>
<text x="525.00" y="273.90" font-size="10.3" font-family='"Liberation Sans", sans-serif' fill="#555" text-anchor="start" textLength="75.00" lengthAdjust="spacingAndGlyphs" >JB/T5000.3-1998</text>
<text x="600.50" y="273.60" font-size="9.2" font-family='"Liberation Serif", "Noto Serif CJK SC", serif' fill="#1c1c1c" text-anchor="start" font-weight="700" textLength="22.20" lengthAdjust="spacingAndGlyphs" >执行。</text>
<text x="411.00" y="289.10" font-size="9.2" font-family='"Liberation Serif", "Noto Serif CJK SC", serif' fill="#1c1c1c" text-anchor="start" font-weight="700" textLength="105.80" lengthAdjust="spacingAndGlyphs" >焊接采用手工电弧焊，焊条型号</text>
<text x="522.40" y="289.40" font-size="10.3" font-family='"Liberation Sans", sans-serif' fill="#555" text-anchor="start" textLength="27.00" lengthAdjust="spacingAndGlyphs" >E4303</text>
<text x="549.40" y="289.10" font-size="9.2" font-family='"Liberation Serif", "Noto Serif CJK SC", serif' fill="#1c1c1c" text-anchor="start" font-weight="700" textLength="22.20" lengthAdjust="spacingAndGlyphs" >，牌号</text>
<text x="572.20" y="289.40" font-size="10.3" font-family='"Liberation Sans", sans-serif' fill="#555" text-anchor="start" textLength="21.00" lengthAdjust="spacingAndGlyphs" >J422</text>
<text x="593.20" y="289.10" font-size="9.2" font-family='"Liberation Serif", "Noto Serif CJK SC", serif' fill="#1c1c1c" text-anchor="start" font-weight="700" textLength="22.20" lengthAdjust="spacingAndGlyphs" >。焊缝</text>
<text x="411.00" y="304.60" font-size="9.2" font-family='"Liberation Serif", "Noto Serif CJK SC", serif' fill="#1c1c1c" text-anchor="start" font-weight="700" textLength="90.60" lengthAdjust="spacingAndGlyphs" >坡口的基本形式与尺寸按照</text>
<text x="502.20" y="304.90" font-size="10.3" font-family='"Liberation Sans", sans-serif' fill="#555" text-anchor="start" textLength="42.00" lengthAdjust="spacingAndGlyphs" >GB985-88</text>
<text x="544.70" y="304.60" font-size="9.2" font-family='"Liberation Serif", "Noto Serif CJK SC", serif' fill="#1c1c1c" text-anchor="start" font-weight="700" textLength="22.20" lengthAdjust="spacingAndGlyphs" >执行。</text>
<text x="402.50" y="323.40" font-size="10.3" font-family='"Liberation Sans", sans-serif' fill="#555" text-anchor="start" textLength="7.50" lengthAdjust="spacingAndGlyphs" >4.</text>
<text x="411.00" y="323.10" font-size="9.2" font-family='"Liberation Serif", "Noto Serif CJK SC", serif' fill="#1c1c1c" text-anchor="start" font-weight="700" textLength="37.40" lengthAdjust="spacingAndGlyphs" >当套管（件</text>
<text x="448.00" y="323.40" font-size="10.3" font-family='"Liberation Sans", sans-serif' fill="#555" text-anchor="start" textLength="4.00" lengthAdjust="spacingAndGlyphs" >1</text>
<text x="452.00" y="323.10" font-size="9.2" font-family='"Liberation Serif", "Noto Serif CJK SC", serif' fill="#1c1c1c" text-anchor="start" font-weight="700" textLength="128.60" lengthAdjust="spacingAndGlyphs" >）采用卷制成型时，周长允许偏差为：</text>
<text x="582.20" y="323.40" font-size="10.3" font-family='"Liberation Sans", sans-serif' fill="#555" text-anchor="start" textLength="40.00" lengthAdjust="spacingAndGlyphs" >D3≤600,</text>
<text x="412.00" y="341.90" font-size="10.3" font-family='"Liberation Sans", sans-serif' fill="#555" text-anchor="start" textLength="11.00" lengthAdjust="spacingAndGlyphs" >±2</text>
<text x="423.00" y="341.60" font-size="9.2" font-family='"Liberation Serif", "Noto Serif CJK SC", serif' fill="#1c1c1c" text-anchor="start" font-weight="700" textLength="7.00" lengthAdjust="spacingAndGlyphs" >，</text>
<text x="429.60" y="341.90" font-size="10.3" font-family='"Liberation Sans", sans-serif' fill="#555" text-anchor="start" textLength="32.00" lengthAdjust="spacingAndGlyphs" >D3&gt;600</text>
<text x="461.60" y="341.60" font-size="9.2" font-family='"Liberation Serif", "Noto Serif CJK SC", serif' fill="#1c1c1c" text-anchor="start" font-weight="700" textLength="7.00" lengthAdjust="spacingAndGlyphs" >，</text>
<text x="468.20" y="341.90" font-size="10.3" font-family='"Liberation Sans", sans-serif' fill="#555" text-anchor="start" textLength="47.00" lengthAdjust="spacingAndGlyphs" >±0.0035D3</text>
<text x="515.20" y="341.60" font-size="9.2" font-family='"Liberation Serif", "Noto Serif CJK SC", serif' fill="#1c1c1c" text-anchor="start" font-weight="700" textLength="7.00" lengthAdjust="spacingAndGlyphs" >。</text>
<text x="402.50" y="358.40" font-size="10.3" font-family='"Liberation Sans", sans-serif' fill="#555" text-anchor="start" textLength="7.50" lengthAdjust="spacingAndGlyphs" >5.</text>
<text x="411.00" y="358.10" font-size="9.2" font-family='"Liberation Serif", "Noto Serif CJK SC", serif' fill="#1c1c1c" text-anchor="start" font-weight="700" textLength="45.00" lengthAdjust="spacingAndGlyphs" >套管的重量以</text>
<text x="460.60" y="358.40" font-size="10.3" font-family='"Liberation Sans", sans-serif' fill="#555" text-anchor="start" textLength="27.00" lengthAdjust="spacingAndGlyphs" >L=200</text>
<text x="488.10" y="358.10" font-size="9.2" font-family='"Liberation Serif", "Noto Serif CJK SC", serif' fill="#1c1c1c" text-anchor="start" font-weight="700" textLength="29.80" lengthAdjust="spacingAndGlyphs" >计算，当</text>
<text x="522.50" y="358.40" font-size="10.3" font-family='"Liberation Sans", sans-serif' fill="#555" text-anchor="start" textLength="27.00" lengthAdjust="spacingAndGlyphs" >L&gt;200</text>
<text x="550.00" y="358.10" font-size="9.2" font-family='"Liberation Serif", "Noto Serif CJK SC", serif' fill="#1c1c1c" text-anchor="start" font-weight="700" textLength="60.20" lengthAdjust="spacingAndGlyphs" >时，应另行计算。</text>
<text x="408.00" y="422.50" font-size="10" font-family='"Liberation Serif", "Noto Serif CJK SC", serif' fill="#1c1c1c" text-anchor="start" font-weight="700" textLength="135.00" lengthAdjust="spacingAndGlyphs" >刚性防水套管（<tspan font-family="Liberation Sans, sans-serif" font-weight="400" fill="#444">A</tspan>型）安装图（一）</text>
<text x="571.80" y="423.00" font-size="9.6" font-family='"Liberation Serif", "Noto Serif CJK SC", serif' fill="#1c1c1c" text-anchor="middle" font-weight="700" textLength="21.50" lengthAdjust="spacingAndGlyphs" >图集号</text>
<text x="611.50" y="423.10" font-size="10.8" font-family='"Liberation Sans", sans-serif' fill="#808080" text-anchor="middle" textLength="30.50" lengthAdjust="spacingAndGlyphs" >02S404</text>
<text x="572.00" y="445.70" font-size="9.5" font-family='"Liberation Serif", "Noto Serif CJK SC", serif' fill="#333" text-anchor="middle" font-weight="600" >页</text>
<text x="612.00" y="445.80" font-size="10.8" font-family='"Liberation Sans", sans-serif' fill="#808080" text-anchor="middle" textLength="9.00" lengthAdjust="spacingAndGlyphs" >15</text>
<text x="396.50" y="445.60" font-size="10" font-family='"Liberation Serif", "Noto Serif CJK SC", serif' fill="#333" text-anchor="middle" font-weight="600" textLength="13.00" lengthAdjust="spacingAndGlyphs" >审核</text>
<text x="453.20" y="445.60" font-size="10" font-family='"Liberation Serif", "Noto Serif CJK SC", serif' fill="#333" text-anchor="middle" font-weight="600" textLength="13.00" lengthAdjust="spacingAndGlyphs" >校对</text>
<text x="509.30" y="445.60" font-size="10" font-family='"Liberation Serif", "Noto Serif CJK SC", serif' fill="#333" text-anchor="middle" font-weight="600" textLength="13.50" lengthAdjust="spacingAndGlyphs" >设计</text>
<text x="425.00" y="446.80" font-size="14" font-family='"Liberation Serif", "Noto Serif CJK SC", serif' fill="#222" text-anchor="middle" font-weight="500" textLength="37.00" lengthAdjust="spacingAndGlyphs" font-style="italic">张海燕</text>
<text x="481.00" y="446.80" font-size="14" font-family='"Liberation Serif", "Noto Serif CJK SC", serif' fill="#222" text-anchor="middle" font-weight="500" textLength="36.00" lengthAdjust="spacingAndGlyphs" font-style="italic">陈春明</text>
<text x="538.30" y="446.80" font-size="14" font-family='"Liberation Serif", "Noto Serif CJK SC", serif' fill="#222" text-anchor="middle" font-weight="500" textLength="38.00" lengthAdjust="spacingAndGlyphs" font-style="italic">阮绍亮</text>
</svg>
</body></html>
